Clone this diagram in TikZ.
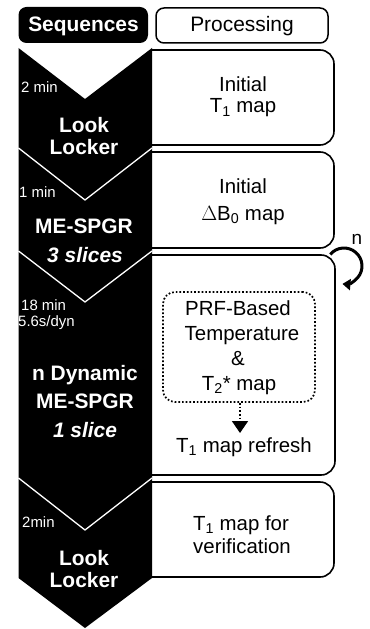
\documentclass[tikz,border=0pt]{standalone}
\usepackage{fontspec}
\setmainfont{Liberation Sans}
\usetikzlibrary{arrows.meta}
\begin{document}
\begin{tikzpicture}[x=1bp,y=-1bp,
  lab/.style={anchor=base, inner sep=0pt, font=\fontsize{20.5}{24}\selectfont},
  seq/.style={anchor=base, inner sep=0pt, text=white, font=\fontsize{21}{24}\selectfont\bfseries},
  seqit/.style={seq, font=\fontsize{21}{24}\selectfont\bfseries\itshape},
  small/.style={anchor=base west, inner sep=0pt, text=white, font=\fontsize{15}{18}\selectfont},
  pbox/.style={draw=black, line width=1.6bp, rounded corners=14bp},
  sepline/.style={draw=white, line width=1.3bp}]
\useasboundingbox (0,0) rectangle (369,629);
% headers
\fill[black, rounded corners=8bp] (18.5,7) rectangle (148,43);
\node[seq] (sq) at (83.5,32) {Sequences};
\draw[line width=1.5bp, rounded corners=8bp] (156,8) rectangle (328,43);
\node[lab, font=\fontsize{21}{24}\selectfont] (pr) at (242,32) {Processing};
% processing boxes
\draw[pbox] (151,50) -- (334,50) -- (334,145) -- (151,145);
\draw[pbox] (151,152) -- (334,152) -- (334,248) -- (151,248);
\draw[pbox] (151,255) -- (335,255) -- (335,475) -- (151,475);
\draw[pbox] (151,482) -- (334,482) -- (334,577) -- (151,577);
% black sequence column
\fill[black] (18.5,48) -- (85,99) -- (152,48) -- (152,578) -- (85,628) -- (18.5,578) -- cycle;
\draw[sepline] (18.5,148) -- (85,200) -- (152,148);
\draw[sepline] (18.5,251) -- (85,302) -- (152,251);
\draw[sepline] (18.5,478) -- (85,530) -- (152,478);
% sequence texts
\node[small] (t1) at (21,93) {2 min};
\node[seq] (ll1a) at (84,133) {Look};
\node[seq] (ll1b) at (84,155) {Locker};
\node[small] (t2) at (19,197) {1 min};
\node[seq] (me1) at (84,233) {ME-SPGR};
\node[seqit] (sl3) at (85,262) {3 slices};
\node[small] (t3) at (21,310) {18 min};
\node[small] (t3b) at (18,326) {5.6s/dyn};
\node[seq] (nd) at (85,380) {n Dynamic};
\node[seq] (me2) at (85,408) {ME-SPGR};
\node[seqit] (sl1) at (85,437) {1 slice};
\node[small] (t4) at (22,527) {2min};
\node[seq] (ll2a) at (84,565) {Look};
\node[seq] (ll2b) at (84,587) {Locker};
% processing texts
\node[lab] (p1a) at (243,92) {Initial};
\node[lab] (p1b) at (243,113) {T\textsubscript{1} map};
\node[lab] (p2a) at (243,193) {Initial};
\node[lab] (p2b) at (243,220) {$\Delta$B\textsubscript{0} map};
\node[draw, dotted, line width=1.7bp, rounded corners=12bp, minimum width=152bp, minimum height=110bp, inner sep=0pt] (dbox) at (239,347) {};
\node[lab] (p3a) at (238,315) {PRF-Based};
\node[lab] (p3b) at (242,340) {Temperature};
\node[lab] (p3c) at (238,365) {\&};
\node[lab] (p3d) at (239,390) {T\textsubscript{2}* map};
\coordinate (tip) at (240,433);
\draw[dotted, line width=1.7bp, -{Triangle[width=16bp,length=12bp]}] (dbox.south -| tip) -- (tip);
\node[lab] (p3e) at (244,452) {T\textsubscript{1} map refresh};
\node[lab] (p4a) at (241,530) {T\textsubscript{1} map for};
\node[lab] (p4b) at (242,553) {verification};
% loop arrow
\coordinate (lc) at (344,266);
\draw[line width=3bp, -{Triangle[width=11bp,length=8bp]}] ([shift={(-140:18)}]lc) arc[start angle=-140, end angle=95, radius=18];
\node[lab, font=\fontsize{19}{22}\selectfont] (nn) at (357,244) {n};
\end{tikzpicture}
\end{document}
